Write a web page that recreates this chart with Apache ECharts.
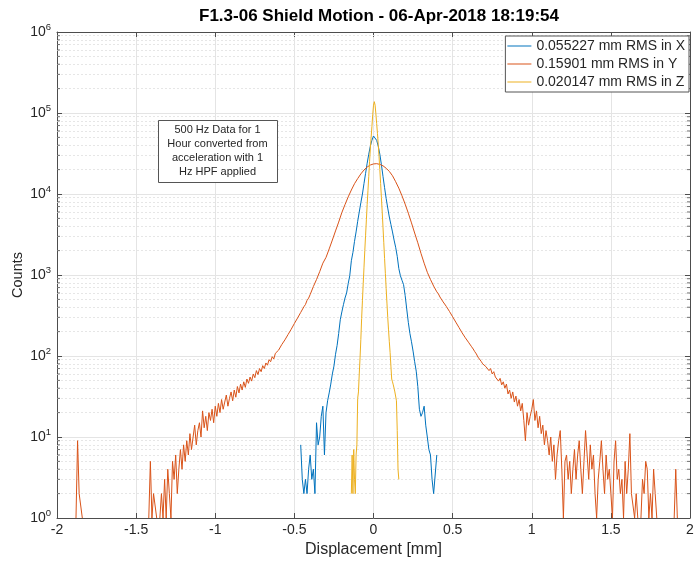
<!DOCTYPE html>
<html><head><meta charset="utf-8">
<script src="https://cdn.jsdelivr.net/npm/echarts@6/dist/echarts.min.js"></script>
<style>html,body{margin:0;padding:0;background:#fff}#c{width:694px;height:563px}</style>
</head><body><div id="c"></div>
<script>
const titleText = 'F1.3-06 Shield Motion - 06-Apr-2018 18:19:54';
const xAxisTitle = 'Displacement [mm]';
const yAxisTitle = 'Counts';
const seriesNames = ['0.055227 mm RMS in X', '0.15901 mm RMS in Y', '0.020147 mm RMS in Z'];
const seriesColors = ['#0072BD', '#D95319', '#EDB120'];
const noteLines = ['500 Hz Data for 1', 'Hour converted from', 'acceleration with 1', 'Hz HPF applied'];
const xMin = -2, xMax = 2, xInterval = 0.5;
const yMin = 1, yMax = 1000000;
const yMinorValues = [2,3,4,5,6,7,8,9,20,30,40,50,60,70,80,90,200,300,400,500,600,700,800,900,
  2000,3000,4000,5000,6000,7000,8000,9000,20000,30000,40000,50000,60000,70000,80000,90000,
  200000,300000,400000,500000,600000,700000,800000,900000];

// [displacement mm, counts]
const countsX = [[-0.47,'-'],[-0.46,8],[-0.45,3],[-0.44,2],[-0.43,3],[-0.42,2],[-0.41,4],[-0.40,6],[-0.39,3],[-0.38,4],[-0.37,2],[-0.36,15],[-0.35,8],[-0.34,10],[-0.33,18],[-0.32,24],[-0.31,6],[-0.30,20],[-0.29,28],[-0.28,35],[-0.27,45],[-0.26,60],[-0.25,75],[-0.24,105],[-0.23,135],[-0.22,190],[-0.21,280],[-0.20,350],[-0.19,430],[-0.18,520],[-0.17,600],[-0.16,780],[-0.15,980],[-0.14,1500],[-0.13,1900],[-0.12,2600],[-0.11,3400],[-0.10,4600],[-0.09,6000],[-0.08,7800],[-0.07,10000],[-0.06,13500],[-0.05,18000],[-0.04,24000],[-0.03,31000],[-0.02,39000],[-0.01,46000],[0.00,52000],[0.01,51000],[0.02,46000],[0.03,39000],[0.04,31000],[0.05,23000],[0.06,16500],[0.07,12000],[0.08,8800],[0.09,6700],[0.10,5200],[0.11,4200],[0.12,3400],[0.13,2700],[0.14,2200],[0.15,1700],[0.16,1200],[0.17,980],[0.18,860],[0.19,760],[0.20,560],[0.21,380],[0.22,260],[0.23,190],[0.24,150],[0.25,115],[0.26,85],[0.27,65],[0.28,42],[0.29,22],[0.30,18],[0.31,20],[0.32,24],[0.33,14],[0.34,10],[0.35,7],[0.36,6],[0.37,3],[0.38,2],[0.39,2],[0.40,6],[0.41,'-']];

const countsY = [[-1.89,'-'],[-1.88,1],[-1.87,9],[-1.86,2],[-1.85,2],[-1.84,1],[-1.83,'-'],
[-1.43,'-'],[-1.42,1],[-1.41,5],[-1.40,1],[-1.39,2],[-1.38,2],[-1.37,1],[-1.36,'-'],
[-1.35,1],[-1.34,2],[-1.33,1],[-1.32,3],[-1.31,1],[-1.30,4],[-1.29,2],[-1.28,1],[-1.27,5],[-1.26,3],[-1.25,6],[-1.24,2],[-1.23,4],[-1.22,7],[-1.21,4],[-1.20,8],[-1.19,5],[-1.18,9],[-1.17,6],[-1.16,11],[-1.15,7],[-1.14,10],[-1.13,14],[-1.12,8],[-1.11,12],[-1.10,15],[-1.09,10],[-1.08,21],[-1.07,13],[-1.06,18],[-1.05,12],[-1.04,20],[-1.03,16],[-1.02,22],[-1.01,15],[-1.00,24],[-0.99,18],[-0.98,26],[-0.97,20],[-0.96,29],[-0.95,22],[-0.94,27],[-0.93,33],[-0.92,24],[-0.91,30],[-0.90,36],[-0.89,28],[-0.88,38],[-0.87,31],[-0.86,42],[-0.85,35],[-0.84,45],[-0.83,38],[-0.82,48],[-0.81,41],[-0.80,52],[-0.79,46],[-0.78,55],[-0.77,49],[-0.76,60],[-0.75,54],[-0.74,66],[-0.73,59],[-0.72,70],[-0.71,64],[-0.70,76],[-0.69,70],[-0.68,82],[-0.67,77],[-0.66,90],[-0.65,85],[-0.64,98],[-0.63,92],[-0.62,108],[-0.61,103],[-0.60,118],[-0.59,122],[-0.58,138],[-0.57,136],[-0.56,158],[-0.55,162],[-0.54,184],[-0.53,190],[-0.52,214],[-0.51,224],[-0.50,252],[-0.49,262],[-0.48,294],[-0.47,308],[-0.46,345],[-0.45,362],[-0.44,405],[-0.43,432],[-0.42,486],[-0.41,518],
[-0.40,575],[-0.38,720],[-0.36,880],[-0.34,1100],[-0.32,1400],[-0.30,1650],[-0.28,2100],[-0.26,2700],[-0.24,3500],[-0.22,4500],[-0.20,5900],[-0.18,7400],[-0.16,9200],[-0.14,11200],[-0.12,13400],[-0.10,15500],[-0.08,17700],[-0.06,19800],[-0.04,21500],[-0.02,22800],[0.00,23500],[0.02,23700],[0.04,23200],[0.06,22300],[0.08,20800],[0.10,19000],[0.12,16800],[0.14,14200],[0.16,11800],[0.18,9500],[0.20,7500],[0.22,5800],[0.24,4400],[0.26,3300],[0.28,2500],[0.30,1850],[0.32,1400],[0.34,1080],[0.36,880],[0.38,730],[0.40,620],
[0.41,585],[0.42,535],[0.43,510],[0.44,465],[0.45,450],[0.46,410],[0.47,395],[0.48,355],[0.49,340],[0.50,305],[0.51,296],[0.52,262],[0.53,254],[0.54,225],[0.55,218],[0.56,193],[0.57,188],[0.58,168],[0.59,160],[0.60,148],[0.61,142],[0.62,130],[0.63,122],[0.64,113],[0.65,106],[0.66,97],[0.67,94],[0.68,86],[0.69,80],[0.70,84],[0.71,74],[0.72,78],[0.73,66],[0.74,70],[0.75,60],[0.76,64],[0.77,55],[0.78,58],[0.79,49],[0.80,53],[0.81,44],[0.82,48],[0.83,40],[0.84,45],[0.85,34],[0.86,38],[0.87,30],[0.88,36],[0.89,27],[0.90,32],[0.91,24],[0.92,29],[0.93,21],[0.94,26],[0.95,16],[0.96,9],[0.97,20],[0.98,14],[0.99,18],[1.00,22],[1.01,29],[1.02,16],[1.03,21],[1.04,13],[1.05,18],[1.06,11],[1.07,14],[1.08,8],[1.09,12],[1.10,9],[1.11,6],[1.12,10],[1.13,5],[1.14,8],[1.15,3],[1.16,6],[1.17,9],[1.18,12],[1.19,4],[1.20,1],[1.21,5],[1.22,6],[1.23,3],[1.24,5],[1.25,2],[1.26,4],[1.27,7],[1.28,3],[1.29,6],[1.30,9],[1.31,4],[1.32,2],[1.33,5],[1.34,12],[1.35,6],[1.36,3],[1.37,8],[1.38,4],[1.39,6],[1.40,2],[1.41,1],[1.42,3],[1.43,5],[1.44,9],[1.45,4],[1.46,2],[1.47,6],[1.48,3],[1.49,4],[1.50,2],[1.51,1],[1.52,5],[1.53,9],[1.54,3],[1.55,4],[1.56,2],[1.57,3],[1.58,1],[1.59,5],[1.60,2],[1.61,4],[1.62,11],[1.63,2],[1.64,2],[1.65,1],[1.66,2],[1.67,1],[1.68,'-'],[1.69,1],[1.70,3],[1.71,2],[1.72,5],[1.73,4],[1.74,1],[1.75,2],[1.76,1],[1.77,4],[1.78,2],[1.79,1],[1.80,'-'],
[1.89,'-'],[1.90,1],[1.91,4],[1.92,1],[1.93,'-']];

const countsZ = [[-0.145,'-'],[-0.140,2],[-0.135,6],[-0.130,2],[-0.125,7],[-0.120,3],[-0.115,2],[-0.110,6],[-0.105,8],[-0.100,30],[-0.095,36],[-0.090,60],[-0.085,95],[-0.080,160],[-0.075,290],[-0.070,480],[-0.065,780],[-0.060,1250],[-0.055,2000],[-0.050,3100],[-0.045,4800],[-0.040,7400],[-0.035,11000],[-0.030,16500],[-0.025,25000],[-0.020,36000],[-0.015,50000],[-0.010,68000],[-0.005,95000],[0.000,125000],[0.005,138000],[0.010,125000],[0.015,98000],[0.020,74000],[0.025,56000],[0.030,41000],[0.035,29000],[0.040,20000],[0.045,13500],[0.050,9000],[0.055,6000],[0.060,3900],[0.065,2500],[0.070,1600],[0.075,1050],[0.080,680],[0.085,450],[0.090,300],[0.095,210],[0.100,150],[0.105,110],[0.110,75],[0.115,52],[0.120,48],[0.125,44],[0.130,40],[0.135,36],[0.140,38],[0.145,28],[0.150,12],[0.155,4],[0.160,3],[0.165,'-']];

const FONT = "'Liberation Sans', Arial, sans-serif";
const TXT = '#262626';
const AX = '#4d4d4d';

const chart = echarts.init(document.getElementById('c'), null, {renderer: 'canvas'});

function baseX(pos, showLabel) {
  return {
    type: 'value', position: pos, min: xMin, max: xMax, interval: xInterval,
    axisLine: {show: true, onZero: false, lineStyle: {color: AX, width: 1}},
    axisTick: {show: true, inside: true, length: 5, lineStyle: {color: AX}},
    axisLabel: {show: showLabel, color: TXT, fontSize: 14, fontFamily: FONT, margin: 5},
    splitLine: {show: showLabel, lineStyle: {color: '#e4e4e4', width: 1}}
  };
}
function baseY(pos, showLabel) {
  return {
    type: 'log', logBase: 10, position: pos, min: yMin, max: yMax,
    axisLine: {show: true, onZero: false, lineStyle: {color: AX, width: 1}},
    axisTick: {show: true, inside: true, length: 5, lineStyle: {color: AX}},
    axisLabel: {
      show: showLabel, margin: 6, fontFamily: FONT, color: TXT,
      formatter: function (v) { return '{b|10}{s|' + Math.round(Math.log10(v)) + '}'; },
      rich: {
        b: {fontSize: 14, fontFamily: FONT, color: TXT},
        s: {fontSize: 9.5, fontFamily: FONT, color: TXT, padding: [0, 0, 9, 0]}
      }
    },
    splitLine: {show: showLabel, lineStyle: {color: '#e4e4e4', width: 1}}
  };
}

const xa0 = baseX('bottom', true);
xa0.name = xAxisTitle; xa0.nameLocation = 'middle'; xa0.nameGap = 23;
xa0.nameTextStyle = {fontSize: 16, color: TXT, fontFamily: FONT};
const ya0 = baseY('left', true);
ya0.name = yAxisTitle; ya0.nameLocation = 'middle'; ya0.nameGap = 32; ya0.nameMoveOverlap = false;
ya0.nameTextStyle = {fontSize: 14.5, color: TXT, fontFamily: FONT};

const lineSeries = [countsX, countsY, countsZ].map(function (d, i) {
  return {
    name: seriesNames[i], type: 'line', data: d, showSymbol: false, symbol: 'none',
    connectNulls: false, clip: true, animation: false, z: 3 + i,
    lineStyle: {color: seriesColors[i], width: 1}, itemStyle: {color: seriesColors[i]}
  };
});

const minorLeft = yMinorValues.map(function (v) { return [xMin, v]; });
const minorRight = yMinorValues.map(function (v) { return [xMax, v]; });

chart.setOption({
  animation: false,
  backgroundColor: '#fff',
  textStyle: {fontFamily: FONT},
  title: {
    text: titleText, left: 374, top: 3, textAlign: 'center',
    textStyle: {fontSize: 17, fontWeight: 'bold', color: '#000', fontFamily: FONT}
  },
  grid: {left: 57, right: 4, top: 32, bottom: 45, containLabel: false, outerBoundsMode: 'none'},
  xAxis: [xa0, baseX('top', false)],
  yAxis: [ya0, baseY('right', false)],
  legend: {
    data: seriesNames.map(function (n) { return {name: n, icon: 'rect'}; }),
    orient: 'vertical', right: 5, top: 36, z: 20,
    backgroundColor: '#fff', borderColor: '#555', borderWidth: 1, borderRadius: 0,
    padding: [2, 4, 2, 2], itemGap: 2, itemWidth: 24, itemHeight: 1,
    textStyle: {fontSize: 14, lineHeight: 16, color: TXT, fontFamily: FONT}
  },
  graphic: [
    {type: 'rect', left: 158, top: 120, z: 100,
     shape: {width: 119, height: 62}, style: {fill: '#fff', stroke: '#555', lineWidth: 1}},
    {type: 'text', x: 217.5, y: 151, z: 101,
     style: {text: noteLines.join('\n'), fontSize: 11, lineHeight: 14, fontFamily: FONT,
             fill: TXT, align: 'center', verticalAlign: 'middle'}}
  ],
  series: lineSeries.concat([
    {type: 'scatter', name: 'minorL', data: minorLeft, symbol: 'rect', symbolSize: [3, 1],
     symbolOffset: [1.5, 0], itemStyle: {color: AX}, silent: true, z: 1, legendHoverLink: false,
     markLine: {silent: true, symbol: 'none', label: {show: false}, animation: false, z: 1,
       lineStyle: {color: '#e6e6e6', type: [2, 2], width: 1},
       data: yMinorValues.map(function (v) { return {yAxis: v}; })}},
    {type: 'scatter', name: 'minorR', data: minorRight, symbol: 'rect', symbolSize: [3, 1],
     symbolOffset: [-1.5, 0], itemStyle: {color: AX}, silent: true, z: 1}
  ])
});
</script></body></html>
